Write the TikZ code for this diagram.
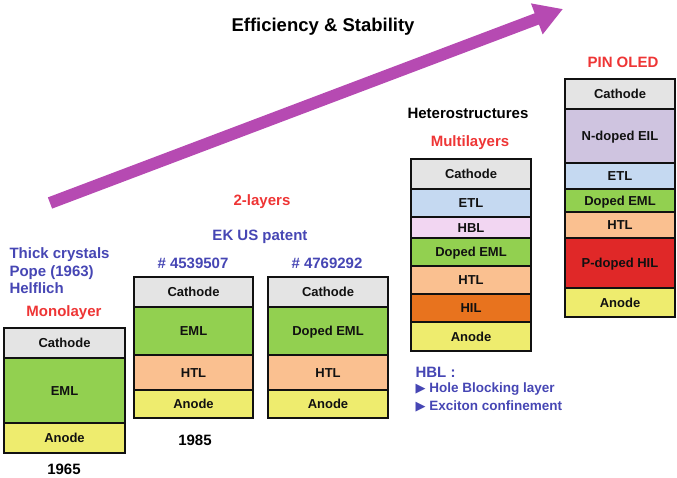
\documentclass[tikz,border=0pt]{standalone}
\usepackage{fontspec}
\setmainfont{Liberation Sans}
\newfontfamily\olsym{DejaVu Sans}
\usetikzlibrary{arrows.meta,positioning}
\definecolor{olink}{HTML}{111111}
\definecolor{olred}{HTML}{EE3535}
\definecolor{olnavy}{HTML}{4646B4}
\definecolor{olpurple}{HTML}{B64AB2}
\definecolor{olgray}{HTML}{E4E4E4}
\definecolor{olgreen}{HTML}{92D050}
\definecolor{olpeach}{HTML}{FAC090}
\definecolor{olyellow}{HTML}{EEEC6E}
\definecolor{olsky}{HTML}{C5D9F1}
\definecolor{olpink}{HTML}{F2D6F2}
\definecolor{olorange}{HTML}{E8731E}
\definecolor{ollilac}{HTML}{CFC4E0}
\definecolor{olscarlet}{HTML}{E02828}
\newcommand{\olbullet}{{\olsym\fontsize{13}{14}\selectfont ▶}}
\tikzset{
  ol layer/.style={draw=olink, line width=2.4pt, outer sep=0pt, inner sep=0pt,
    text height=9.5pt, text depth=0pt, text=olink,
    font=\bfseries\fontsize{13}{15}\selectfont},
  ol head/.style={font=\bfseries\fontsize{15}{18}\selectfont},
  ol red/.style={ol head, text=olred},
  ol blue/.style={ol head, text=olnavy},
  ol note/.style={font=\bfseries\fontsize{13.5}{16}\selectfont, text=olnavy},
  ol arrow/.style={-{Triangle[length=28pt,width=31pt]}, line width=12pt, draw=olpurple}
}
\begin{document}
\begin{tikzpicture}[x=1pt, y=-1pt]
  \useasboundingbox (0,0) rectangle (677,478);
  % trend arrow
  \coordinate (trend start) at (50,203);
  \coordinate (trend end) at (563,9);
  \draw[ol arrow] (trend start) -- (trend end);
  \node[font=\bfseries\fontsize{18.5}{22}\selectfont] (trend) at (323,27) {Efficiency \& Stability};

  % monolayer (1965)
  \begin{scope}[ol layer/.append style={minimum width=121pt}]
    \node[ol layer, fill=olgray, minimum height=30pt, anchor=north west] (mono cathode) at (4,328) {Cathode};
    \node[ol layer, fill=olgreen, minimum height=65pt, below=0pt of mono cathode] (mono eml) {EML};
    \node[ol layer, fill=olyellow, minimum height=30pt, below=0pt of mono eml] (mono anode) {Anode};
  \end{scope}
  \node[ol blue, align=left, anchor=west] (mono ref) at (6,271) {Thick crystals\\[-0.5pt]Pope (1963)\\[-0.5pt]Helflich};
  \node[ol red] (mono title) at (64,313) {Monolayer};
  \node[ol head] (mono year) at (64,469) {1965};

  % two layers (1985)
  \begin{scope}[ol layer/.append style={minimum width=119pt}]
    \node[ol layer, fill=olgray, minimum height=30pt, anchor=north west] (two cathode) at (134,277) {Cathode};
    \node[ol layer, fill=olgreen, minimum height=48pt, below=0pt of two cathode] (two eml) {EML};
    \node[ol layer, fill=olpeach, minimum height=35pt, below=0pt of two eml] (two htl) {HTL};
    \node[ol layer, fill=olyellow, minimum height=28pt, below=0pt of two htl] (two anode) {Anode};
  \end{scope}
  \begin{scope}[ol layer/.append style={minimum width=120pt}]
    \node[ol layer, fill=olgray, minimum height=30pt, anchor=north west] (dop cathode) at (268,277) {Cathode};
    \node[ol layer, fill=olgreen, minimum height=48pt, below=0pt of dop cathode] (dop eml) {Doped EML};
    \node[ol layer, fill=olpeach, minimum height=35pt, below=0pt of dop eml] (dop htl) {HTL};
    \node[ol layer, fill=olyellow, minimum height=28pt, below=0pt of dop htl] (dop anode) {Anode};
  \end{scope}
  \node[ol red] (two title) at (262,202) {2-layers};
  \node[ol blue] (two patent) at (260,237) {EK US patent};
  \node[ol blue] (two num) at (193,263) {\# 4539507};
  \node[ol blue] (dop num) at (327,263) {\# 4769292};
  \node[ol head] (two year) at (195,440) {1985};

  % multilayers
  \begin{scope}[ol layer/.append style={minimum width=120pt}]
    \node[ol layer, fill=olgray, minimum height=30pt, anchor=north west] (multi cathode) at (411,159) {Cathode};
    \node[ol layer, fill=olsky, minimum height=28pt, below=0pt of multi cathode] (multi etl) {ETL};
    \node[ol layer, fill=olpink, minimum height=21pt, below=0pt of multi etl] (multi hbl) {HBL};
    \node[ol layer, fill=olgreen, minimum height=28pt, below=0pt of multi hbl] (multi eml) {Doped EML};
    \node[ol layer, fill=olpeach, minimum height=28pt, below=0pt of multi eml] (multi htl) {HTL};
    \node[ol layer, fill=olorange, minimum height=28pt, below=0pt of multi htl] (multi hil) {HIL};
    \node[ol layer, fill=olyellow, minimum height=29pt, below=0pt of multi hil] (multi anode) {Anode};
  \end{scope}
  \node[ol head] (multi hetero) at (468,113) {Heterostructures};
  \node[ol red] (multi title) at (470,143) {Multilayers};
  \node[ol blue, anchor=west] (hbl note) at (412,372) {HBL :};
  \node[ol note, anchor=west] (hbl one) at (412,389) {\olbullet\ Hole Blocking layer};
  \node[ol note, anchor=west] (hbl two) at (412,406) {\olbullet\ Exciton confinement};

  % PIN OLED
  \begin{scope}[ol layer/.append style={minimum width=110pt}]
    \node[ol layer, fill=olgray, minimum height=30pt, anchor=north west] (pin cathode) at (565,79) {Cathode};
    \node[ol layer, fill=ollilac, minimum height=54pt, below=0pt of pin cathode] (pin eil) {N-doped EIL};
    \node[ol layer, fill=olsky, minimum height=26pt, below=0pt of pin eil] (pin etl) {ETL};
    \node[ol layer, fill=olgreen, minimum height=23pt, below=0pt of pin etl] (pin eml) {Doped EML};
    \node[ol layer, fill=olpeach, minimum height=26pt, below=0pt of pin eml] (pin htl) {HTL};
    \node[ol layer, fill=olscarlet, minimum height=50pt, below=0pt of pin htl] (pin hil) {P-doped HIL};
    \node[ol layer, fill=olyellow, minimum height=29pt, below=0pt of pin hil] (pin anode) {Anode};
  \end{scope}
  \node[ol red] (pin title) at (623,62) {PIN OLED};
\end{tikzpicture}
\end{document}
